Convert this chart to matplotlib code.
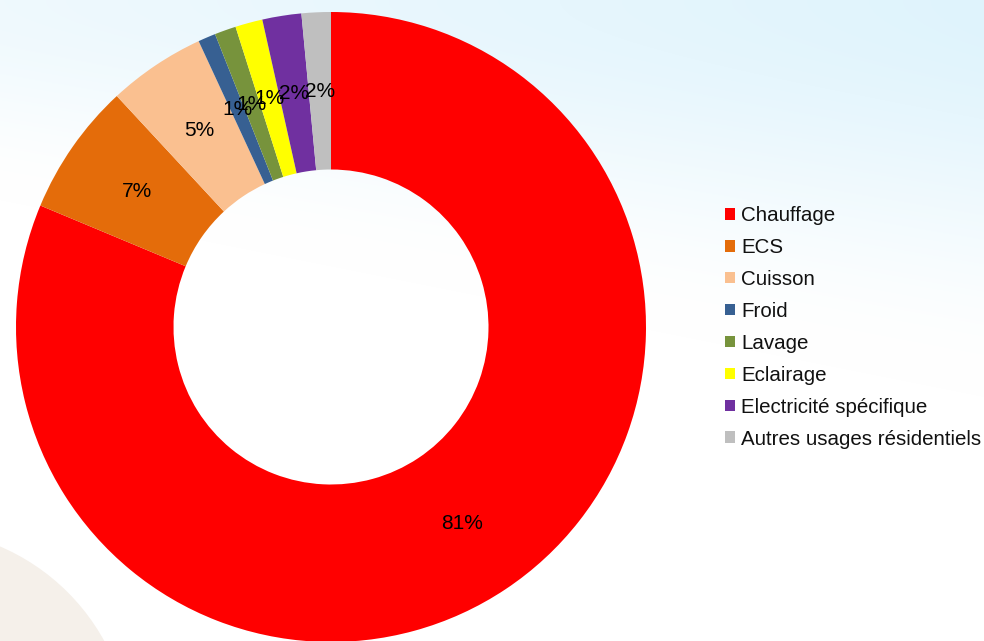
import numpy as np
import matplotlib
matplotlib.use("Agg")
import matplotlib.pyplot as plt
from matplotlib.patches import Circle, Patch

categories = ["Chauffage", "ECS", "Cuisson", "Froid", "Lavage", "Eclairage",
              "Electricité spécifique", "Autres usages résidentiels"]
values = [81.3, 6.8, 5.0, 0.9, 1.1, 1.4, 2.0, 1.5]
pct_labels = ["81%", "7%", "5%", "1%", "1%", "1%", "2%", "2%"]
colors = ["#FF0000", "#E46C0A", "#FAC090", "#376092", "#77933C", "#FFFF00",
          "#7030A0", "#BFBFBF"]

plt.rcParams['font.family'] = ['Liberation Sans', 'DejaVu Sans']

W, H = 984, 641
fig = plt.figure(figsize=(W / 100, H / 100), dpi=100)

# background
bg = fig.add_axes([0, 0, 1, 1])
bg.set_xlim(0, W)
bg.set_ylim(H, 0)
bg.axis("off")
yy, xx = np.mgrid[0:H, 0:W]
t = np.clip(yy / (200 + 0.2 * xx), 0, 1)
t = t * t * (3 - 2 * t)
s = (0.5 + 0.5 * (xx / W)) * (1 - t)
blue = np.array([0.875, 0.955, 0.99])
white = np.array([1.0, 1.0, 1.0])
img = white[None, None, :] - s[..., None] * (white - blue)[None, None, :]
bg.imshow(img, extent=(0, W, H, 0), aspect="auto", zorder=0)
bg.add_patch(Circle((-85, 745), 216, color="#F5F0EA", zorder=1, lw=0))

# donut
cx, cy, r = 331, 327, 315
ax = fig.add_axes([(cx - r) / W, (H - cy - r) / H, 2 * r / W, 2 * r / H])
ax.set_zorder(2)
wedges, texts = ax.pie(values, colors=colors, startangle=90, counterclock=False,
                       radius=1.0, wedgeprops=dict(width=0.5, linewidth=0))
ax.set_xlim(-1, 1)
ax.set_ylim(-1, 1)
ax.set_aspect("equal")
ax.axis("off")

# percentage labels at ring middle
ang = 90.0
total = sum(values)
for v, lab in zip(values, pct_labels):
    sweep = 360.0 * v / total
    mid = np.deg2rad(ang - sweep / 2)
    ax.text(0.75 * np.cos(mid), 0.75 * np.sin(mid), lab, ha="center", va="center",
            fontsize=15, color="black")
    ang -= sweep

handles = [Patch(facecolor=c, edgecolor="none") for c in colors]
leg = fig.legend(handles, categories, loc="upper left",
                 bbox_to_anchor=(725 / W, 1 - 206 / H), frameon=False,
                 fontsize=14.8, handlelength=0.5, handleheight=0.5,
                 handletextpad=0.3, labelspacing=0.63, borderaxespad=0,
                 borderpad=0)
for txt in leg.get_texts():
    txt.set_color("#111111")

fig.savefig("out.png", dpi=100)
